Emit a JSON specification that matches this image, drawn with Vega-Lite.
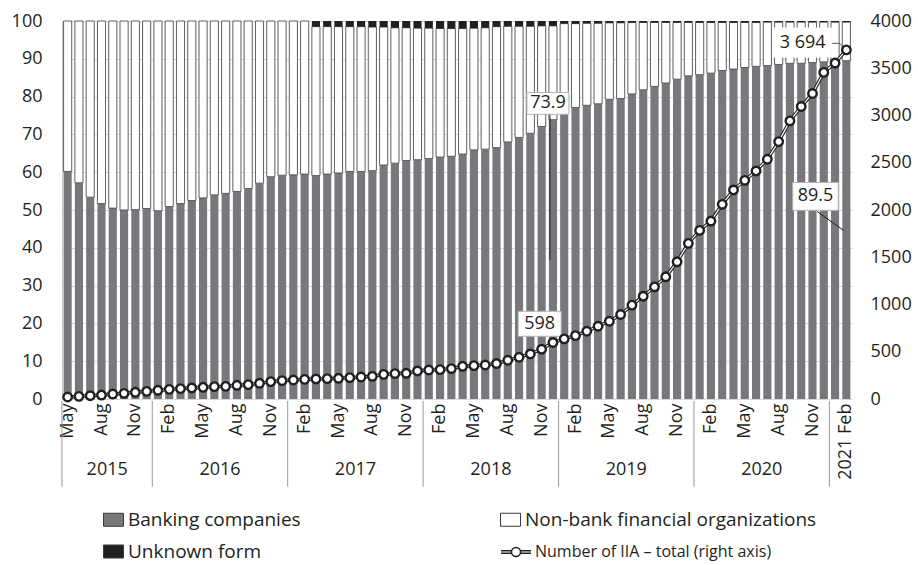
{
  "$schema": "https://vega.github.io/schema/vega-lite/v6.json",
  "width": 790,
  "height": 378,
  "autosize": {"type": "none"},
  "padding": {"left": 62, "top": 21, "right": 66, "bottom": 166},
  "background": "white",
  "config": {
    "font": "Open Sans",
    "view": {"stroke": null},
    "axis": {"labelColor": "#231f20", "labelFontSize": 18, "labelFont": "Open Sans"},
    "axisY": {"labelOverlap": false},
    "text": {"font": "Open Sans", "fontSize": 18, "color": "#231f20"},
    "legend": {"labelFont": "Open Sans"}
  },
  "datasets": {
    "main": [
      {"d": "2015-05", "Banking companies": 60.2, "Non-bank financial organizations": 39.8, "Unknown form": 0, "total": 21},
      {"d": "2015-06", "Banking companies": 57.2, "Non-bank financial organizations": 42.8, "Unknown form": 0, "total": 28},
      {"d": "2015-07", "Banking companies": 53.4, "Non-bank financial organizations": 46.6, "Unknown form": 0, "total": 35},
      {"d": "2015-08", "Banking companies": 51.7, "Non-bank financial organizations": 48.3, "Unknown form": 0, "total": 42},
      {"d": "2015-09", "Banking companies": 50.5, "Non-bank financial organizations": 49.5, "Unknown form": 0, "total": 53},
      {"d": "2015-10", "Banking companies": 50.0, "Non-bank financial organizations": 50.0, "Unknown form": 0, "total": 60},
      {"d": "2015-11", "Banking companies": 50.1, "Non-bank financial organizations": 49.9, "Unknown form": 0, "total": 71},
      {"d": "2015-12", "Banking companies": 50.4, "Non-bank financial organizations": 49.6, "Unknown form": 0, "total": 81},
      {"d": "2016-01", "Banking companies": 49.8, "Non-bank financial organizations": 50.2, "Unknown form": 0, "total": 92},
      {"d": "2016-02", "Banking companies": 50.9, "Non-bank financial organizations": 49.1, "Unknown form": 0, "total": 102},
      {"d": "2016-03", "Banking companies": 51.7, "Non-bank financial organizations": 48.3, "Unknown form": 0, "total": 110},
      {"d": "2016-04", "Banking companies": 52.5, "Non-bank financial organizations": 47.5, "Unknown form": 0, "total": 117},
      {"d": "2016-05", "Banking companies": 53.2, "Non-bank financial organizations": 46.8, "Unknown form": 0, "total": 124},
      {"d": "2016-06", "Banking companies": 54.0, "Non-bank financial organizations": 46.0, "Unknown form": 0, "total": 131},
      {"d": "2016-07", "Banking companies": 54.4, "Non-bank financial organizations": 45.6, "Unknown form": 0, "total": 134},
      {"d": "2016-08", "Banking companies": 54.9, "Non-bank financial organizations": 45.1, "Unknown form": 0, "total": 145},
      {"d": "2016-09", "Banking companies": 55.7, "Non-bank financial organizations": 44.3, "Unknown form": 0, "total": 152},
      {"d": "2016-10", "Banking companies": 57.1, "Non-bank financial organizations": 42.9, "Unknown form": 0, "total": 166},
      {"d": "2016-11", "Banking companies": 58.8, "Non-bank financial organizations": 41.2, "Unknown form": 0, "total": 184},
      {"d": "2016-12", "Banking companies": 59.2, "Non-bank financial organizations": 40.8, "Unknown form": 0, "total": 194},
      {"d": "2017-01", "Banking companies": 59.3, "Non-bank financial organizations": 40.7, "Unknown form": 0, "total": 201},
      {"d": "2017-02", "Banking companies": 59.5, "Non-bank financial organizations": 40.5, "Unknown form": 0, "total": 208},
      {"d": "2017-03", "Banking companies": 59.1, "Non-bank financial organizations": 39.4, "Unknown form": 1.5, "total": 212},
      {"d": "2017-04", "Banking companies": 59.5, "Non-bank financial organizations": 39.0, "Unknown form": 1.5, "total": 216},
      {"d": "2017-05", "Banking companies": 59.8, "Non-bank financial organizations": 38.7, "Unknown form": 1.5, "total": 219},
      {"d": "2017-06", "Banking companies": 60.2, "Non-bank financial organizations": 38.3, "Unknown form": 1.5, "total": 226},
      {"d": "2017-07", "Banking companies": 60.2, "Non-bank financial organizations": 38.3, "Unknown form": 1.5, "total": 233},
      {"d": "2017-08", "Banking companies": 60.4, "Non-bank financial organizations": 38.0, "Unknown form": 1.6, "total": 240},
      {"d": "2017-09", "Banking companies": 61.9, "Non-bank financial organizations": 36.5, "Unknown form": 1.6, "total": 261},
      {"d": "2017-10", "Banking companies": 62.4, "Non-bank financial organizations": 35.8, "Unknown form": 1.8, "total": 269},
      {"d": "2017-11", "Banking companies": 63.1, "Non-bank financial organizations": 35.1, "Unknown form": 1.8, "total": 272},
      {"d": "2017-12", "Banking companies": 63.3, "Non-bank financial organizations": 34.8, "Unknown form": 1.9, "total": 297},
      {"d": "2018-01", "Banking companies": 63.6, "Non-bank financial organizations": 34.5, "Unknown form": 1.9, "total": 307},
      {"d": "2018-02", "Banking companies": 64.0, "Non-bank financial organizations": 34.0, "Unknown form": 2.0, "total": 311},
      {"d": "2018-03", "Banking companies": 64.2, "Non-bank financial organizations": 33.8, "Unknown form": 2.0, "total": 322},
      {"d": "2018-04", "Banking companies": 64.8, "Non-bank financial organizations": 33.2, "Unknown form": 2.0, "total": 346},
      {"d": "2018-05", "Banking companies": 65.9, "Non-bank financial organizations": 32.2, "Unknown form": 1.9, "total": 353},
      {"d": "2018-06", "Banking companies": 66.1, "Non-bank financial organizations": 32.1, "Unknown form": 1.8, "total": 360},
      {"d": "2018-07", "Banking companies": 66.5, "Non-bank financial organizations": 32.0, "Unknown form": 1.5, "total": 375},
      {"d": "2018-08", "Banking companies": 68.0, "Non-bank financial organizations": 30.6, "Unknown form": 1.4, "total": 410},
      {"d": "2018-09", "Banking companies": 69.2, "Non-bank financial organizations": 29.4, "Unknown form": 1.4, "total": 442},
      {"d": "2018-10", "Banking companies": 70.3, "Non-bank financial organizations": 28.3, "Unknown form": 1.4, "total": 477},
      {"d": "2018-11", "Banking companies": 72.1, "Non-bank financial organizations": 26.6, "Unknown form": 1.3, "total": 527},
      {"d": "2018-12", "Banking companies": 73.9, "Non-bank financial organizations": 24.8, "Unknown form": 1.3, "total": 598},
      {"d": "2019-01", "Banking companies": 76.4, "Non-bank financial organizations": 22.9, "Unknown form": 0.7, "total": 636},
      {"d": "2019-02", "Banking companies": 77.1, "Non-bank financial organizations": 22.2, "Unknown form": 0.7, "total": 671},
      {"d": "2019-03", "Banking companies": 77.7, "Non-bank financial organizations": 21.7, "Unknown form": 0.6, "total": 717},
      {"d": "2019-04", "Banking companies": 78.1, "Non-bank financial organizations": 21.3, "Unknown form": 0.6, "total": 770},
      {"d": "2019-05", "Banking companies": 79.3, "Non-bank financial organizations": 20.2, "Unknown form": 0.5, "total": 823},
      {"d": "2019-06", "Banking companies": 79.5, "Non-bank financial organizations": 20.0, "Unknown form": 0.5, "total": 894},
      {"d": "2019-07", "Banking companies": 80.7, "Non-bank financial organizations": 18.9, "Unknown form": 0.4, "total": 993},
      {"d": "2019-08", "Banking companies": 81.8, "Non-bank financial organizations": 17.8, "Unknown form": 0.4, "total": 1088},
      {"d": "2019-09", "Banking companies": 82.7, "Non-bank financial organizations": 16.9, "Unknown form": 0.4, "total": 1187},
      {"d": "2019-10", "Banking companies": 83.6, "Non-bank financial organizations": 16.0, "Unknown form": 0.4, "total": 1293},
      {"d": "2019-11", "Banking companies": 84.6, "Non-bank financial organizations": 15.0, "Unknown form": 0.4, "total": 1452},
      {"d": "2019-12", "Banking companies": 85.5, "Non-bank financial organizations": 14.1, "Unknown form": 0.4, "total": 1647},
      {"d": "2020-01", "Banking companies": 85.8, "Non-bank financial organizations": 13.8, "Unknown form": 0.4, "total": 1784},
      {"d": "2020-02", "Banking companies": 86.2, "Non-bank financial organizations": 13.4, "Unknown form": 0.4, "total": 1883},
      {"d": "2020-03", "Banking companies": 86.9, "Non-bank financial organizations": 12.7, "Unknown form": 0.4, "total": 2060},
      {"d": "2020-04", "Banking companies": 87.3, "Non-bank financial organizations": 12.3, "Unknown form": 0.4, "total": 2212},
      {"d": "2020-05", "Banking companies": 87.7, "Non-bank financial organizations": 11.9, "Unknown form": 0.4, "total": 2314},
      {"d": "2020-06", "Banking companies": 88.0, "Non-bank financial organizations": 11.6, "Unknown form": 0.4, "total": 2413},
      {"d": "2020-07", "Banking companies": 88.2, "Non-bank financial organizations": 11.5, "Unknown form": 0.3, "total": 2537},
      {"d": "2020-08", "Banking companies": 88.5, "Non-bank financial organizations": 11.2, "Unknown form": 0.3, "total": 2724},
      {"d": "2020-09", "Banking companies": 88.8, "Non-bank financial organizations": 10.9, "Unknown form": 0.3, "total": 2943},
      {"d": "2020-10", "Banking companies": 88.8, "Non-bank financial organizations": 10.9, "Unknown form": 0.3, "total": 3095},
      {"d": "2020-11", "Banking companies": 89.0, "Non-bank financial organizations": 10.7, "Unknown form": 0.3, "total": 3233},
      {"d": "2020-12", "Banking companies": 89.2, "Non-bank financial organizations": 10.5, "Unknown form": 0.3, "total": 3456},
      {"d": "2021-01", "Banking companies": 89.4, "Non-bank financial organizations": 10.3, "Unknown form": 0.3, "total": 3555},
      {"d": "2021-02", "Banking companies": 89.5, "Non-bank financial organizations": 10.2, "Unknown form": 0.3, "total": 3694}
    ]
  },
  "layer": [
    {
      "layer": [
        {
          "data": {"name": "main"},
          "transform": [{"fold": ["Banking companies", "Non-bank financial organizations", "Unknown form"], "as": ["series", "share"]}],
          "mark": {"type": "bar", "strokeWidth": 0.9},
          "encoding": {
            "x": {
              "field": "d", "type": "ordinal",
              "scale": {"paddingInner": 0.28, "paddingOuter": 0.14},
              "axis": {
                "title": null, "labelAngle": -90, "ticks": false, "domain": false, "grid": false,
                "labelPadding": 4, "labelOverlap": false, "labelBound": false, "labelFontSize": 18,
                "labelExpr": "datum.value == '2021-02' ? '2021 Feb' : substring(datum.value, 5, 7) == '02' ? 'Feb' : substring(datum.value, 5, 7) == '05' ? 'May' : substring(datum.value, 5, 7) == '08' ? 'Aug' : substring(datum.value, 5, 7) == '11' ? 'Nov' : ''"
              }
            },
            "y": {
              "field": "share", "type": "quantitative", "stack": "zero",
              "scale": {"domain": [0, 100], "nice": false},
              "axis": {"title": null, "values": [0, 10, 20, 30, 40, 50, 60, 70, 80, 90, 100], "labelOverlap": false, "ticks": false, "domain": true, "domainColor": "#c8c8c8", "grid": true, "gridColor": "#d9d9d9", "labelPadding": 20, "labelFontSize": 18}
            },
            "color": {
              "field": "series", "type": "nominal",
              "scale": {
                "domain": ["Banking companies", "Unknown form", "Non-bank financial organizations"],
                "range": ["#77787b", "#231f20", "#ffffff"]
              },
              "legend": {
                "title": null, "orient": "none", "legendX": 41, "legendY": 488,
                "columns": 2, "columnPadding": 197, "rowPadding": 11,
                "symbolType": "M-1,-0.65H1V0.65H-1Z",
                "symbolSize": 400, "symbolStrokeColor": "#3a3a3a", "symbolStrokeWidth": 1,
                "labelFontSize": 19, "labelOffset": 4, "labelColor": "#231f20", "labelLimit": 500
              }
            },
            "stroke": {"condition": {"test": "datum.series === 'Non-bank financial organizations'", "value": "#4d4d4d"}, "value": "transparent"},
            "order": {"field": "series", "type": "nominal", "sort": "ascending"}
          }
        },
        {
          "data": {"values": [{"d": "2015-05"}, {"d": "2016-01"}, {"d": "2017-01"}, {"d": "2018-01"}, {"d": "2019-01"}, {"d": "2020-01"}, {"d": "2021-01"}]},
          "mark": {"type": "rule", "color": "#9a9a9a", "strokeWidth": 1, "xOffset": -1.6},
          "encoding": {
            "x": {"field": "d", "type": "ordinal", "bandPosition": 0},
            "y": {"datum": -0.5, "type": "quantitative", "scale": {"domain": [0, 100], "nice": false},
              "axis": {"title": null, "values": [0, 10, 20, 30, 40, 50, 60, 70, 80, 90, 100], "labelOverlap": false, "ticks": false, "domain": true, "domainColor": "#c8c8c8", "grid": true, "gridColor": "#d9d9d9", "labelPadding": 20, "labelFontSize": 18}},
            "y2": {"datum": -23.2}
          }
        },
        {
          "data": {"values": [{"d": "2015-08", "t": "2015"}, {"d": "2016-06", "t": "2016"}, {"d": "2017-06", "t": "2017"}, {"d": "2018-06", "t": "2018"}, {"d": "2019-06", "t": "2019"}, {"d": "2020-06", "t": "2020"}]},
          "mark": {"type": "text", "fontSize": 18, "color": "#231f20", "dx": 1.6, "align": "center", "baseline": "middle"},
          "encoding": {
            "x": {"field": "d", "type": "ordinal", "bandPosition": 1},
            "y": {"datum": -18.7, "type": "quantitative", "scale": {"domain": [0, 100], "nice": false},
              "axis": {"title": null, "values": [0, 10, 20, 30, 40, 50, 60, 70, 80, 90, 100], "labelOverlap": false, "ticks": false, "domain": true, "domainColor": "#c8c8c8", "grid": true, "gridColor": "#d9d9d9", "labelPadding": 20, "labelFontSize": 18}},
            "text": {"field": "t"}
          }
        },
        {
          "data": {"values": [{"d": "2018-12", "a": 75.6, "b": 36.8}]},
          "mark": {"type": "rule", "color": "#231f20", "strokeWidth": 1, "xOffset": -3},
          "encoding": {
            "x": {"field": "d", "type": "ordinal"},
            "y": {"field": "a", "type": "quantitative", "scale": {"domain": [0, 100], "nice": false},
              "axis": {"title": null, "values": [0, 10, 20, 30, 40, 50, 60, 70, 80, 90, 100], "labelOverlap": false, "ticks": false, "domain": true, "domainColor": "#c8c8c8", "grid": true, "gridColor": "#d9d9d9", "labelPadding": 20, "labelFontSize": 18}},
            "y2": {"field": "b"}
          }
        },
        {
          "data": {"values": [{"d": "2020-11", "e": "2021-02", "a": 49.6, "b": 44.6}]},
          "mark": {"type": "rule", "color": "#231f20", "strokeWidth": 1, "xOffset": 4.6, "x2Offset": -2.7},
          "encoding": {
            "x": {"field": "d", "type": "ordinal"},
            "x2": {"field": "e"},
            "y": {"field": "a", "type": "quantitative", "scale": {"domain": [0, 100], "nice": false},
              "axis": {"title": null, "values": [0, 10, 20, 30, 40, 50, 60, 70, 80, 90, 100], "labelOverlap": false, "ticks": false, "domain": true, "domainColor": "#c8c8c8", "grid": true, "gridColor": "#d9d9d9", "labelPadding": 20, "labelFontSize": 18}},
            "y2": {"field": "b"}
          }
        },
        {
          "data": {"values": [{"d": "2020-12", "e": "2021-01", "a": 94.1, "b": 94.1}]},
          "mark": {"type": "rule", "color": "#555555", "strokeWidth": 1, "xOffset": 8, "x2Offset": 4.6},
          "encoding": {
            "x": {"field": "d", "type": "ordinal"},
            "x2": {"field": "e"},
            "y": {"field": "a", "type": "quantitative", "scale": {"domain": [0, 100], "nice": false},
              "axis": {"title": null, "values": [0, 10, 20, 30, 40, 50, 60, 70, 80, 90, 100], "labelOverlap": false, "ticks": false, "domain": true, "domainColor": "#c8c8c8", "grid": true, "gridColor": "#d9d9d9", "labelPadding": 20, "labelFontSize": 18}},
            "y2": {"field": "b"}
          }
        },
        {
          "data": {"values": [{"d": "2021-01", "e": "2021-02", "a": 94.1, "b": 92.2}]},
          "mark": {"type": "rule", "color": "#555555", "strokeWidth": 1, "xOffset": 4.6},
          "encoding": {
            "x": {"field": "d", "type": "ordinal"},
            "x2": {"field": "e"},
            "y": {"field": "a", "type": "quantitative", "scale": {"domain": [0, 100], "nice": false},
              "axis": {"title": null, "values": [0, 10, 20, 30, 40, 50, 60, 70, 80, 90, 100], "labelOverlap": false, "ticks": false, "domain": true, "domainColor": "#c8c8c8", "grid": true, "gridColor": "#d9d9d9", "labelPadding": 20, "labelFontSize": 18}},
            "y2": {"field": "b"}
          }
        },
        {
          "data": {"values": [{"d": "2018-12", "v": 78.2, "t": "73.9"}]},
          "encoding": {
            "x": {"field": "d", "type": "ordinal"},
            "y": {"field": "v", "type": "quantitative", "scale": {"domain": [0, 100], "nice": false},
              "axis": {"title": null, "values": [0, 10, 20, 30, 40, 50, 60, 70, 80, 90, 100], "labelOverlap": false, "ticks": false, "domain": true, "domainColor": "#c8c8c8", "grid": true, "gridColor": "#d9d9d9", "labelPadding": 20, "labelFontSize": 18}}
          },
          "layer": [
            {"mark": {"type": "point", "shape": "M-1,-0.52H1V0.52H-1Z", "size": 1764, "filled": true, "fill": "white", "stroke": "#b3b3b3", "strokeWidth": 1, "opacity": 1, "xOffset": -5}},
            {"mark": {"type": "text", "fontSize": 18, "color": "#231f20", "dx": -5, "align": "center", "baseline": "middle"}, "encoding": {"text": {"field": "t"}}}
          ]
        },
        {
          "data": {"values": [{"d": "2018-11", "v": 19.9, "t": "598"}]},
          "encoding": {
            "x": {"field": "d", "type": "ordinal"},
            "y": {"field": "v", "type": "quantitative", "scale": {"domain": [0, 100], "nice": false},
              "axis": {"title": null, "values": [0, 10, 20, 30, 40, 50, 60, 70, 80, 90, 100], "labelOverlap": false, "ticks": false, "domain": true, "domainColor": "#c8c8c8", "grid": true, "gridColor": "#d9d9d9", "labelPadding": 20, "labelFontSize": 18}}
          },
          "layer": [
            {"mark": {"type": "point", "shape": "M-1,-0.58H1V0.58H-1Z", "size": 1850, "filled": true, "fill": "white", "stroke": "#b3b3b3", "strokeWidth": 1, "opacity": 1, "xOffset": -2}},
            {"mark": {"type": "text", "fontSize": 18, "color": "#231f20", "dx": -2, "align": "center", "baseline": "middle"}, "encoding": {"text": {"field": "t"}}}
          ]
        },
        {
          "data": {"values": [{"d": "2020-10", "v": 94.3, "t": "3 694"}]},
          "encoding": {
            "x": {"field": "d", "type": "ordinal"},
            "y": {"field": "v", "type": "quantitative", "scale": {"domain": [0, 100], "nice": false},
              "axis": {"title": null, "values": [0, 10, 20, 30, 40, 50, 60, 70, 80, 90, 100], "labelOverlap": false, "ticks": false, "domain": true, "domainColor": "#c8c8c8", "grid": true, "gridColor": "#d9d9d9", "labelPadding": 20, "labelFontSize": 18}}
          },
          "layer": [
            {"mark": {"type": "point", "shape": "M-1,-0.5H1V0.5H-1Z", "size": 3364, "filled": true, "fill": "white", "stroke": "#ffffff", "strokeWidth": 1, "opacity": 1, "xOffset": 1.5}},
            {"mark": {"type": "text", "fontSize": 18, "color": "#231f20", "dx": 1.5, "align": "center", "baseline": "middle"}, "encoding": {"text": {"field": "t"}}}
          ]
        },
        {
          "data": {"values": [{"d": "2020-11", "v": 53.6, "t": "89.5"}]},
          "encoding": {
            "x": {"field": "d", "type": "ordinal"},
            "y": {"field": "v", "type": "quantitative", "scale": {"domain": [0, 100], "nice": false},
              "axis": {"title": null, "values": [0, 10, 20, 30, 40, 50, 60, 70, 80, 90, 100], "labelOverlap": false, "ticks": false, "domain": true, "domainColor": "#c8c8c8", "grid": true, "gridColor": "#d9d9d9", "labelPadding": 20, "labelFontSize": 18}}
          },
          "layer": [
            {"mark": {"type": "point", "shape": "M-1,-0.61H1V0.61H-1Z", "size": 2080, "filled": true, "fill": "white", "stroke": "#b3b3b3", "strokeWidth": 1, "opacity": 1, "xOffset": 3}},
            {"mark": {"type": "text", "fontSize": 18, "color": "#231f20", "dx": 3, "align": "center", "baseline": "middle"}, "encoding": {"text": {"field": "t"}}}
          ]
        }
      ]
    },
    {
      "data": {"name": "main"},
      "encoding": {
        "x": {"field": "d", "type": "ordinal"},
        "y": {
          "field": "total", "type": "quantitative",
          "scale": {"domain": [0, 4000], "nice": false},
          "axis": {
            "orient": "right", "title": null, "values": [0, 500, 1000, 1500, 2000, 2500, 3000, 3500, 4000], "format": "d",
            "ticks": false, "domain": false, "grid": false, "labelPadding": 18, "labelFontSize": 18
          }
        }
      },
      "layer": [
        {"mark": {"type": "line", "color": "#231f20", "strokeWidth": 3.4}},
        {"mark": {"type": "line", "color": "#ffffff", "strokeWidth": 1.2}},
        {
          "mark": {"type": "point", "filled": true, "fill": "#ffffff", "strokeWidth": 2.4, "size": 72, "opacity": 1},
          "encoding": {
            "stroke": {
              "datum": "Number of IIA – total (right axis)", "type": "nominal",
              "scale": {"range": ["#231f20"]},
              "legend": {
                "title": null, "orient": "none", "legendX": 438, "legendY": 520,
                "symbolType": "M-1,-0.12H0.05M-1,0.12H0.05M0.95,-0.12H2M0.95,0.12H2M0.95,0A0.45,0.45 0 1,1 0.05,0A0.45,0.45 0 1,1 0.95,0Z",
                "symbolSize": 400, "symbolFillColor": "#ffffff", "symbolStrokeColor": "#231f20", "symbolStrokeWidth": 1.5,
                "labelFontSize": 16, "labelOffset": 13, "labelColor": "#231f20", "labelLimit": 500
              }
            }
          }
        }
      ]
    }
  ],
  "resolve": {"scale": {"y": "independent"}}
}
